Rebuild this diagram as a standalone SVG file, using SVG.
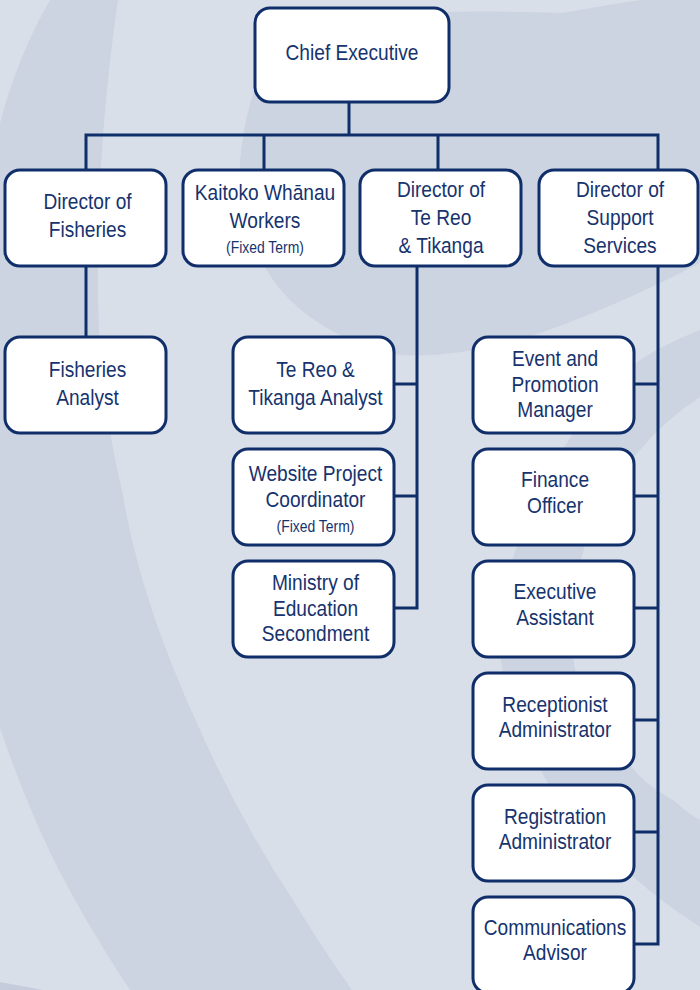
<svg xmlns="http://www.w3.org/2000/svg" width="700" height="990" viewBox="0 0 700 990">
<style>
.bgl{fill:#d8dfe9}
.bgd{fill:#cdd4e1}
.box{fill:#ffffff;stroke:#0f2e6a;stroke-width:3}
.ln{fill:none;stroke:#0f2e6a;stroke-width:3;stroke-linecap:square;stroke-linejoin:miter}
.t{font-family:"Liberation Sans",Arial,sans-serif;font-size:22px;fill:#16336e;text-anchor:middle}
.s{font-size:16px}
</style>
<g id="background">
<rect class="bgl" x="0" y="0" width="700" height="990"/>
<path class="bgd" d="M50,0 Q18,55 0,123 L0,728 Q35,830 75,900 Q100,945 130,990 L352,990 Q320,945 293,900 Q240,820 200,730 Q140,600 123,495 Q100,400 98,300 Q96,150 118,0 Z"/>
<path class="bgd" d="M700,0 L640,0 Q600,6 563,13 Q420,8 300,20 Q250,60 240,160 Q240,250 290,300 Q330,340 400,355 Q450,358 520,340 Q610,310 700,263 Z"/>
<path class="bgd" d="M700,330 Q650,350 627,370 Q590,400 567,443 Q535,490 523,530 Q495,600 500,653 Q505,700 523,733 Q535,760 550,787 Q575,825 607,853 Q650,895 700,927 L700,820 Q690,815 673,800 Q640,782 627,760 Q600,730 590,700 Q575,680 573,657 Q572,600 580,563 Q585,545 590,530 Q610,480 640,450 Q665,420 700,397 Z"/>
<path d="M0,982 L43,990 L0,990 Z" fill="#c5cddc"/>
</g>
<g id="connectors">
<path class="ln" d="M349,102 L349,135 M86,135 L658,135 M86,135 L86,170 M264,135 L264,170 M438,135 L438,170 M658,135 L658,170"/>
<path class="ln" d="M86,266 L86,337"/>
<path class="ln" d="M417,266 L417,608 M394,384 L417,384 M394,496 L417,496 M394,608 L417,608"/>
<path class="ln" d="M658,266 L658,944 M634,384 L658,384 M634,496 L658,496 M634,608 L658,608 M634,720 L658,720 M634,832 L658,832 M634,944 L658,944"/>
</g>
<g id="chief-executive">
<rect class="box" x="255" y="8" width="194" height="94" rx="15"/>
<g transform="translate(352,0) scale(0.87,1)"><text class="t" x="0" y="60">Chief Executive</text></g>
</g>
<g id="director-fisheries">
<rect class="box" x="5" y="170" width="161" height="96" rx="15"/>
<g transform="translate(87.5,0) scale(0.87,1)"><text class="t" x="0" y="209">Director of</text><text class="t" x="0" y="237">Fisheries</text></g>
</g>
<g id="kaitoko-whanau">
<rect class="box" x="183" y="170" width="161" height="96" rx="15"/>
<g transform="translate(265,0) scale(0.87,1)"><text class="t" x="0" y="200">Kaitoko Whānau</text><text class="t" x="0" y="228">Workers</text><text class="t s" x="0" y="253">(Fixed Term)</text></g>
</g>
<g id="director-te-reo">
<rect class="box" x="360" y="170" width="161" height="96" rx="15"/>
<g transform="translate(441,0) scale(0.87,1)"><text class="t" x="0" y="197">Director of</text><text class="t" x="0" y="225">Te Reo</text><text class="t" x="0" y="253">&amp; Tikanga</text></g>
</g>
<g id="director-support">
<rect class="box" x="539" y="170" width="159" height="96" rx="15"/>
<g transform="translate(620,0) scale(0.87,1)"><text class="t" x="0" y="197">Director of</text><text class="t" x="0" y="225">Support</text><text class="t" x="0" y="253">Services</text></g>
</g>
<g id="fisheries-analyst">
<rect class="box" x="5" y="337" width="161" height="96" rx="15"/>
<g transform="translate(87.5,0) scale(0.87,1)"><text class="t" x="0" y="377">Fisheries</text><text class="t" x="0" y="405">Analyst</text></g>
</g>
<g id="te-reo-analyst">
<rect class="box" x="233" y="337" width="161" height="96" rx="15"/>
<g transform="translate(315.5,0) scale(0.87,1)"><text class="t" x="0" y="377">Te Reo &amp;</text><text class="t" x="0" y="405">Tikanga Analyst</text></g>
</g>
<g id="website-coordinator">
<rect class="box" x="233" y="449" width="161" height="96" rx="15"/>
<g transform="translate(315.5,0) scale(0.87,1)"><text class="t" x="0" y="481">Website Project</text><text class="t" x="0" y="507">Coordinator</text><text class="t s" x="0" y="532">(Fixed Term)</text></g>
</g>
<g id="ministry-secondment">
<rect class="box" x="233" y="561" width="161" height="96" rx="15"/>
<g transform="translate(315.5,0) scale(0.87,1)"><text class="t" x="0" y="590">Ministry of</text><text class="t" x="0" y="616">Education</text><text class="t" x="0" y="641">Secondment</text></g>
</g>
<g id="event-manager">
<rect class="box" x="473" y="337" width="161" height="96" rx="15"/>
<g transform="translate(555,0) scale(0.87,1)"><text class="t" x="0" y="366">Event and</text><text class="t" x="0" y="392">Promotion</text><text class="t" x="0" y="417">Manager</text></g>
</g>
<g id="finance-officer">
<rect class="box" x="473" y="449" width="161" height="96" rx="15"/>
<g transform="translate(555,0) scale(0.87,1)"><text class="t" x="0" y="487">Finance</text><text class="t" x="0" y="513">Officer</text></g>
</g>
<g id="executive-assistant">
<rect class="box" x="473" y="561" width="161" height="96" rx="15"/>
<g transform="translate(555,0) scale(0.87,1)"><text class="t" x="0" y="599">Executive</text><text class="t" x="0" y="625">Assistant</text></g>
</g>
<g id="receptionist-administrator">
<rect class="box" x="473" y="673" width="161" height="96" rx="15"/>
<g transform="translate(555,0) scale(0.87,1)"><text class="t" x="0" y="712">Receptionist</text><text class="t" x="0" y="737">Administrator</text></g>
</g>
<g id="registration-administrator">
<rect class="box" x="473" y="785" width="161" height="96" rx="15"/>
<g transform="translate(555,0) scale(0.87,1)"><text class="t" x="0" y="824">Registration</text><text class="t" x="0" y="849">Administrator</text></g>
</g>
<g id="communications-advisor">
<rect class="box" x="473" y="897" width="161" height="96" rx="15"/>
<g transform="translate(555,0) scale(0.87,1)"><text class="t" x="0" y="935">Communications</text><text class="t" x="0" y="960">Advisor</text></g>
</g>
</svg>
